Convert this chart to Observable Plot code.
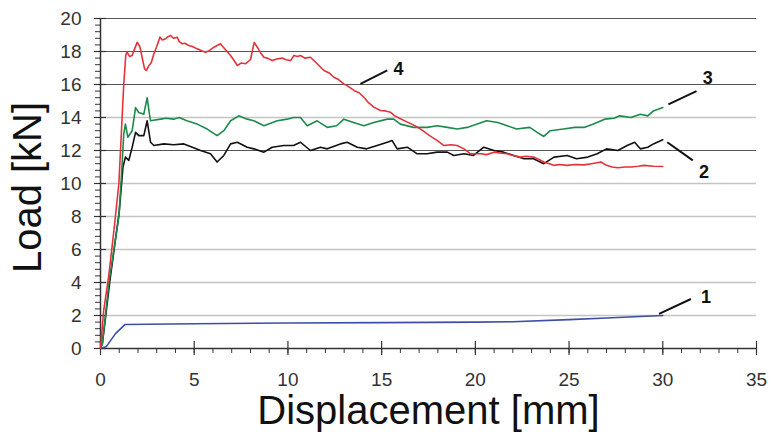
<!DOCTYPE html>
<html>
<head>
<meta charset="utf-8">
<script src="https://cdn.jsdelivr.net/npm/d3@7"></script>
<script src="https://cdn.jsdelivr.net/npm/@observablehq/plot@0.6"></script>
<style>
  html, body { margin: 0; padding: 0; background: #fff; }
  #chart { width: 771px; height: 434px; }
</style>
</head>
<body>
<div id="chart"></div>
<script>
// ---- data ----
const xTicks = [0, 5, 10, 15, 20, 25, 30, 35];
const yTicks = [0, 2, 4, 6, 8, 10, 12, 14, 16, 18, 20];

const curve1X = [0, 0.3, 0.8, 1.3, 5, 10, 15, 20, 22, 25, 27, 30];
const curve1Y = [0, 0.1, 0.9, 1.45, 1.5, 1.55, 1.57, 1.6, 1.62, 1.75, 1.85, 2.0];

const curve2X = [0, 0.1, 0.5, 1.0, 1.2, 1.33, 1.51, 1.69, 1.87, 2.04, 2.31, 2.49, 2.67, 2.85, 3.38, 3.9, 4.45, 4.9, 5.34, 5.87, 6.22, 6.58, 6.94, 7.3, 7.83, 8.18, 8.72, 9.16, 9.78, 10.3, 10.67, 11.2, 11.74, 12.1, 12.8, 13.16, 13.7, 14.2, 14.76, 15.3, 15.56, 15.83, 16.37, 16.9, 17.43, 17.96, 18.5, 18.85, 19.4, 19.9, 20.45, 21.0, 21.5, 22.05, 22.6, 23.1, 23.65, 24.2, 24.9, 25.4, 26.0, 26.5, 27.0, 27.6, 28.1, 28.5, 28.8, 29.2, 29.5, 30.0];
const curve2Y = [0, 0.3, 4.1, 8.3, 11.0, 11.6, 11.4, 12.2, 13.1, 12.9, 12.9, 13.8, 12.5, 12.3, 12.4, 12.35, 12.4, 12.2, 12.0, 11.8, 11.3, 11.7, 12.4, 12.5, 12.2, 12.1, 11.9, 12.2, 12.3, 12.3, 12.5, 12.0, 12.2, 12.1, 12.4, 12.5, 12.2, 12.1, 12.3, 12.5, 12.6, 12.1, 12.2, 11.8, 11.8, 11.9, 11.9, 11.7, 11.8, 11.7, 12.2, 12.0, 11.9, 11.7, 11.5, 11.5, 11.2, 11.6, 11.7, 11.5, 11.6, 11.8, 12.1, 12.0, 12.3, 12.5, 12.1, 12.2, 12.4, 12.65];

const curve3X = [0, 0.1, 0.45, 0.98, 1.12, 1.24, 1.33, 1.46, 1.69, 1.87, 2.04, 2.31, 2.49, 2.61, 2.67, 3.2, 3.5, 3.9, 4.2, 4.6, 5.16, 5.69, 6.22, 6.58, 6.94, 7.38, 7.83, 8.18, 8.72, 9.43, 9.96, 10.3, 10.67, 11.03, 11.56, 12.1, 12.6, 12.98, 13.5, 14.05, 14.58, 15.3, 15.65, 16.0, 16.7, 17.43, 17.96, 18.5, 19.03, 19.56, 20.1, 20.6, 21.2, 21.7, 22.2, 22.9, 23.3, 23.65, 24.0, 24.7, 25.3, 25.8, 26.3, 26.9, 27.4, 27.7, 28.3, 28.8, 29.2, 29.5, 30.0];
const curve3Y = [0, 0.3, 4.0, 8.0, 10.5, 13.0, 13.6, 12.8, 13.2, 14.6, 14.3, 14.2, 15.2, 14.2, 13.8, 13.9, 13.95, 13.9, 14.0, 13.8, 13.6, 13.3, 12.9, 13.2, 13.8, 14.1, 13.9, 13.8, 13.5, 13.8, 13.9, 14.0, 14.0, 13.5, 13.8, 13.4, 13.5, 13.9, 13.7, 13.5, 13.7, 13.9, 13.9, 13.6, 13.4, 13.4, 13.5, 13.4, 13.3, 13.4, 13.6, 13.8, 13.7, 13.5, 13.3, 13.4, 13.1, 12.85, 13.2, 13.3, 13.4, 13.4, 13.6, 13.9, 13.95, 14.1, 14.0, 14.2, 14.1, 14.4, 14.6];

const curve4X = [0, 0.17, 0.45, 0.75, 0.98, 1.24, 1.35, 1.42, 1.55, 1.69, 1.8, 1.96, 2.1, 2.22, 2.35, 2.45, 2.58, 2.7, 2.85, 3.0, 3.17, 3.3, 3.47, 3.6, 3.74, 3.9, 4.09, 4.2, 4.36, 4.5, 4.71, 4.9, 5.16, 5.4, 5.6, 5.8, 6.05, 6.2, 6.4, 6.6, 6.94, 7.1, 7.3, 7.5, 7.74, 8.0, 8.2, 8.4, 8.55, 8.72, 8.9, 9.16, 9.4, 9.7, 9.9, 10.14, 10.32, 10.5, 10.67, 10.9, 11.2, 11.56, 11.92, 12.2, 12.45, 12.7, 12.98, 13.2, 13.52, 13.8, 14.05, 14.3, 14.58, 14.94, 15.2, 15.47, 15.7, 16.0, 16.37, 16.6, 16.9, 17.2, 17.43, 17.7, 17.96, 18.32, 18.7, 19.03, 19.39, 19.75, 20.3, 20.6, 21.0, 21.3, 21.7, 22.0, 22.4, 22.7, 23.1, 23.4, 23.65, 24.2, 24.5, 24.9, 25.3, 25.8, 26.2, 26.7, 27.0, 27.3, 27.6, 28.0, 28.3, 28.7, 29.0, 29.5, 30.0];
const curve4Y = [0, 2.3, 4.5, 7.5, 10.0, 16.0, 17.8, 17.96, 17.7, 17.76, 18.1, 18.56, 18.3, 17.65, 16.95, 16.85, 17.15, 17.3, 17.86, 18.3, 18.87, 18.7, 18.77, 18.9, 18.97, 18.8, 18.87, 18.6, 18.47, 18.5, 18.36, 18.3, 18.16, 18.05, 17.96, 18.05, 18.26, 18.35, 18.47, 18.2, 17.76, 17.5, 17.15, 17.3, 17.26, 17.5, 18.55, 18.2, 17.9, 17.65, 17.6, 17.45, 17.55, 17.6, 17.5, 17.45, 17.76, 17.7, 17.76, 17.6, 17.65, 17.26, 16.85, 16.7, 16.44, 16.3, 16.04, 15.9, 15.64, 15.5, 15.23, 14.9, 14.63, 14.42, 14.4, 14.32, 14.1, 13.92, 13.72, 13.6, 13.42, 13.2, 13.01, 12.8, 12.61, 12.3, 12.35, 12.3, 12.1, 11.8, 11.8, 11.75, 11.9, 11.85, 11.8, 11.7, 11.6, 11.65, 11.6, 11.45, 11.3, 11.1, 11.15, 11.1, 11.15, 11.13, 11.2, 11.3, 11.1, 11.0, 10.95, 11.0, 11.0, 11.05, 11.1, 11.05, 11.03];

const labelText = ["1", "2", "3", "4"];
const labelX = [32.3, 32.2, 32.4, 15.9];
const labelY = [3.1, 10.67, 16.4, 16.9];
const leaderX1 = [29.8, 30.24, 30.3, 13.87];
const leaderY1 = [2.1, 12.5, 14.8, 16.04];
const leaderX2 = [31.5, 31.6, 31.8, 15.3];
const leaderY2 = [3.0, 11.4, 15.6, 16.85];

const seriesColors = ["#3c4fa3", "#111111", "#1d8a4c", "#e5323a"];

// ---- build tables ----
const toRows = (xs, ys) => xs.map((x, i) => ({x, y: ys[i]}));
const curves = [toRows(curve1X, curve1Y), toRows(curve2X, curve2Y), toRows(curve3X, curve3Y), toRows(curve4X, curve4Y)];
const labels = labelText.map((t, i) => ({t, x: labelX[i], y: labelY[i], x1: leaderX1[i], y1: leaderY1[i], x2: leaderX2[i], y2: leaderY2[i]}));
const darkGrid = [12, 16, 18, 20];
const lightGrid = yTicks.filter(v => v > 0 && !darkGrid.includes(v));
const yMinor = d3.range(0, 20.001, 0.4).map(v => +v.toFixed(1));
const xMinor = d3.range(0, 35.001, 1);

const font = "'Liberation Sans', Arial, sans-serif";

const chart = Plot.plot({
  width: 771,
  height: 434,
  marginLeft: 100,
  marginRight: 15,
  marginTop: 18,
  marginBottom: 86,
  style: {fontFamily: font, background: "#fff", overflow: "visible"},
  x: {domain: [0, 35]},
  y: {domain: [0, 20]},
  marks: [
    Plot.ruleY(lightGrid, {stroke: "#c4c4c4", strokeWidth: 1.6}),
    Plot.ruleY(darkGrid, {stroke: "#555", strokeWidth: 1.2}),
    // minor ticks
    Plot.axisY({ticks: yMinor, tickSize: 5, text: null, stroke: "#333", strokeWidth: 1}),
    Plot.axisX({ticks: xMinor, tickSize: 5, text: null, stroke: "#333", strokeWidth: 1}),
    // major ticks crossing the axis
    Plot.axisY({ticks: yTicks, tickSize: -6, text: null, stroke: "#333", strokeWidth: 1.2}),
    Plot.axisX({ticks: xTicks, tickSize: -7, text: null, stroke: "#333", strokeWidth: 1.2}),
    Plot.axisY({ticks: yTicks, tickSize: 6, tickPadding: 13, label: null, fontSize: 19, color: "#333", stroke: "#333", strokeWidth: 1.2}),
    Plot.axisX({ticks: xTicks, tickSize: 7, tickPadding: 17, label: null, fontSize: 19, color: "#333", stroke: "#333", strokeWidth: 1.2}),
    Plot.ruleX([0], {stroke: "#333", strokeWidth: 1.5}),
    Plot.ruleY([0], {stroke: "#333", strokeWidth: 1.5}),
    // curves
    ...curves.map((rows, i) => Plot.line(rows, {x: "x", y: "y", stroke: seriesColors[i], strokeWidth: 1.6, curve: "linear"})),
    // leaders and labels
    Plot.link(labels, {x1: "x1", y1: "y1", x2: "x2", y2: "y2", stroke: "#111", strokeWidth: 2}),
    Plot.text(labels, {x: "x", y: "y", text: "t", fontSize: 18, fontWeight: "bold", fill: "#111"}),
    // axis titles
    Plot.text(["Load [kN]"], {frameAnchor: "left", textAnchor: "middle", lineAnchor: "middle", dx: -72, dy: 4, rotate: -90, fontSize: 40, fill: "#111", text: d => d}),
    Plot.text(["Displacement [mm]"], {frameAnchor: "bottom", textAnchor: "middle", lineAnchor: "middle", dy: 63, fontSize: 40, fill: "#111", text: d => d})
  ]
});
document.getElementById("chart").appendChild(chart);
</script>
</body>
</html>
